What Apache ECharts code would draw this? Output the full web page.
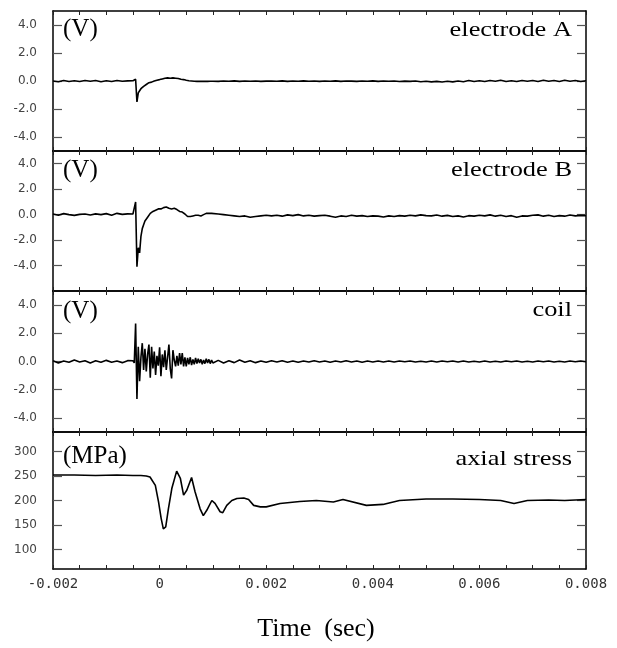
<!DOCTYPE html>
<html><head><meta charset="utf-8">
<script src="https://cdn.jsdelivr.net/npm/echarts@6/dist/echarts.min.js"></script>
<style>html,body{margin:0;padding:0;background:#fff}#c{width:617px;height:648px}</style>
</head><body><div id="c"></div>
<script>
// time grid in milliseconds (axis labels shown in seconds)
var timeMs = [
 -2.0,-1.9,-1.8,-1.7,-1.6,-1.5,-1.4,-1.3,-1.2,-1.1,-1.0,-0.9,-0.8,-0.7,-0.6,
 -0.5,-0.475,-0.45,-0.425,-0.4,-0.375,-0.35,-0.325,-0.3,-0.275,-0.25,-0.225,-0.2,-0.175,-0.15,-0.125,-0.1,-0.075,-0.05,-0.025,
 0,0.025,0.05,0.075,0.1,0.125,0.15,0.175,0.2,0.225,0.25,0.275,0.3,0.325,0.35,0.375,0.4,0.425,0.45,0.475,
 0.5,0.525,0.55,0.575,0.6,0.625,0.65,0.675,0.7,0.725,0.75,0.775,0.8,0.825,0.85,0.875,0.9,0.925,0.95,0.975,
 1.0,
 1.1,1.2,1.3,1.4,1.5,1.6,1.7,1.8,1.9,2.0,
 2.1,2.2,2.3,2.4,2.5,2.6,2.7,2.8,2.9,3.0,
 3.1,3.2,3.3,3.4,3.5,3.6,3.7,3.8,3.9,4.0,
 4.1,4.2,4.3,4.4,4.5,4.6,4.7,4.8,4.9,5.0,
 5.1,5.2,5.3,5.4,5.5,5.6,5.7,5.8,5.9,6.0,
 6.1,6.2,6.3,6.4,6.5,6.6,6.7,6.8,6.9,7.0,
 7.1,7.2,7.3,7.4,7.5,7.6,7.7,7.8,7.9,8.0
];
var electrodeA = [
 0,-0.05,0.03,-0.04,0.02,-0.03,0.04,-0.02,0.03,-0.05,0.02,-0.03,0.04,-0.02,0.01,
 0.02,-0.03,0.12,-1.5,-0.85,-0.7,-0.55,-0.5,-0.38,-0.35,-0.25,-0.22,-0.12,-0.15,-0.08,-0.05,0.0,0.02,0.06,0.04,
 0.1,0.08,0.15,0.12,0.2,0.16,0.22,0.25,0.2,0.28,0.22,0.25,0.2,0.24,0.18,0.2,0.12,0.15,0.1,0.08,
 0.05,0.06,0.02,0.04,0.0,0.02,-0.02,0.0,-0.03,0.0,-0.02,0.01,-0.03,0.0,-0.02,0.0,-0.03,-0.01,-0.02,0.0,
 -0.02,
 -0.03,0.0,-0.02,0.01,-0.03,0.0,-0.02,0.0,-0.03,-0.01,
 0.0,-0.02,0.01,-0.03,0.0,-0.02,0.01,-0.02,0.0,-0.03,
 0.0,-0.02,0.01,-0.03,0.0,-0.01,-0.03,0.0,-0.02,0.01,
 -0.03,0.0,-0.02,0.0,-0.04,-0.01,-0.03,0.0,-0.05,-0.02,
 -0.06,-0.03,-0.07,-0.02,-0.06,0.0,-0.05,0.03,-0.04,0.02,
 -0.03,0.04,-0.02,0.05,-0.03,0.02,-0.04,0.04,-0.02,0.03,
 -0.03,0.05,-0.02,0.04,-0.03,0.05,-0.02,0.03,-0.03,0.02
];
var electrodeB = [
 0.05,-0.05,0.08,0,-0.06,0.02,0.05,-0.03,0.06,0.0,0.08,-0.04,0.1,0.02,0.06,
 0.05,0.02,1.0,-4.1,-2.6,-3.0,-1.7,-1.1,-0.8,-0.5,-0.55,-0.2,-0.05,0.1,0.05,0.25,0.2,0.35,0.3,0.45,
 0.5,0.45,0.6,0.55,0.65,0.6,0.55,0.5,0.6,0.45,0.4,0.5,0.35,0.4,0.3,0.25,0.35,0.2,0.15,0.05,
 -0.05,-0.15,-0.2,-0.15,-0.2,-0.1,-0.15,-0.05,0.0,-0.05,0.0,-0.1,0.05,0.0,0.05,0.1,0.05,0.1,0.05,0.1,
 0.05,
 0.05,0.0,-0.05,-0.1,-0.15,-0.1,-0.2,-0.15,-0.1,-0.05,
 -0.1,-0.05,-0.12,-0.02,-0.08,0.0,-0.1,-0.05,-0.12,-0.08,
 -0.05,-0.12,-0.2,-0.1,-0.15,-0.05,-0.12,-0.08,-0.15,-0.1,
 -0.12,-0.18,-0.1,-0.15,-0.08,-0.12,-0.05,-0.1,-0.02,-0.08,
 -0.1,-0.03,-0.12,-0.06,-0.15,-0.1,-0.18,-0.08,-0.12,-0.05,
 -0.1,-0.02,-0.12,-0.05,-0.15,-0.08,-0.2,-0.1,-0.12,-0.05,
 -0.02,-0.12,-0.05,-0.15,-0.08,-0.12,-0.03,-0.1,-0.06,-0.08
];
var coil = [
 0.06,-0.1,0.03,-0.06,0.1,-0.03,0.06,-0.1,0.05,-0.06,0.08,-0.05,0.03,-0.08,0.06,
 0.05,-0.1,2.7,-2.65,1.05,-1.4,0.3,1.3,-0.6,0.9,-0.7,0.5,1.2,-1.15,1.05,-0.5,0.7,-0.95,0.4,-0.3,
 1.0,-1.05,0.5,-0.4,0.8,-0.6,0.3,1.2,-0.5,-1.2,0.8,0.1,-0.35,0.4,-0.3,0.6,-0.2,0.6,-0.35,0.3,
 -0.35,0.25,-0.2,0.3,-0.25,0.15,-0.2,0.25,-0.15,0.2,-0.1,0.15,-0.2,0.1,-0.15,0.2,-0.1,0.15,-0.15,0.1,
 -0.1,
 0.08,-0.1,0.05,-0.08,0.1,-0.05,0.06,-0.08,0.04,-0.06,
 0.05,-0.04,0.06,-0.05,0.03,-0.06,0.04,-0.03,0.05,-0.04,
 0.03,-0.05,0.04,-0.03,0.05,-0.04,0.03,-0.05,0.03,-0.03,
 0.04,-0.03,0.03,-0.04,0.03,-0.02,0.04,-0.03,0.02,-0.04,
 0.03,-0.03,0.04,-0.02,0.03,-0.04,0.03,-0.03,0.02,-0.03,
 0.03,-0.03,0.02,-0.04,0.03,-0.02,0.03,-0.03,0.02,-0.03,
 0.03,-0.02,0.03,-0.03,0.02,-0.03,0.03,-0.02,0.03,-0.02
];
// axial stress, own time samples (ms) and values (MPa)
var stressTimeMs = [-2.0,-1.6,-1.2,-0.8,-0.5,-0.35,-0.25,-0.18,-0.08,-0.02,0.03,0.07,0.115,0.165,0.23,0.32,0.39,0.45,0.51,0.6,0.665,0.76,0.82,0.885,0.98,1.04,1.135,1.185,1.26,1.355,1.45,1.58,1.67,1.765,1.89,2.0,2.26,2.63,2.94,3.26,3.44,3.88,4.19,4.5,5.0,5.5,6.0,6.4,6.65,6.9,7.3,7.6,8.0];
var stressMPa    = [252,252,251,252,251,251,250,248,231,197,163,142,146,183,225,260,245,211,221,247,218,183,169,180,200,194,177,175,190,200,204,205,202,190,187,187,194,198,200,197,202,190,192,200,203,203,202,200,194,200,201,200,202];

var xTicks = [-2,-1.5,-1,-0.5,0,0.5,1,1.5,2,2.5,3,3.5,4,4.5,5,5.5,6,6.5,7,7.5,8];
var xLabelVals = [-2,0,2,4,6,8];
var xLabelText = ['-0.002','0','0.002','0.004','0.006','0.008'];
var vTicks = [-4,-2,0,2,4];
var vTickText = ['-4.0','-2.0','0.0','2.0','4.0'];
var sTicks = [100,150,200,250,300];
var sTickText = ['100','150','200','250','300'];

var panels = [
 {top:11, height:140, min:-5, max:5, ticks:vTicks, text:vTickText, unit:'(V)', name:'electrode A', t:timeMs, v:electrodeA, uy:29, ny:30},
 {top:151, height:140, min:-6, max:5, ticks:vTicks, text:vTickText, unit:'(V)', name:'electrode B', t:timeMs, v:electrodeB, uy:170, ny:170},
 {top:291, height:141, min:-5, max:5, ticks:vTicks, text:vTickText, unit:'(V)', name:'coil', t:timeMs, v:coil, uy:311, ny:310},
 {top:432, height:137, min:60, max:340, ticks:sTicks, text:sTickText, unit:'(MPa)', name:'axial stress', t:stressTimeMs, v:stressMPa, uy:456, ny:459}
];

var grids=[], xAxes=[], yAxes=[], series=[], graphics=[];
var lineAx = {show:true, onZero:false, lineStyle:{color:'#000', width:1.5}};
panels.forEach(function(p, i){
  grids.push({left:53, right:31, top:p.top, height:p.height, containLabel:false});
  var last = (i === panels.length-1);
  xAxes.push({type:'value', gridIndex:i, position:'bottom', min:-2, max:8,
    axisLine:lineAx, splitLine:{show:false},
    axisTick:{show:true, inside:true, length:4, customValues:xTicks, lineStyle:{color:'#222', width:1}},
    axisLabel:{show:last, customValues:xLabelVals, margin:8, color:'#333', fontSize:14, fontFamily:'DejaVu Sans Mono',
      formatter:function(v){var k=xLabelVals.indexOf(v);return k>=0?xLabelText[k]:'';}}});
  xAxes.push({type:'value', gridIndex:i, position:'top', min:-2, max:8,
    axisLine:lineAx, splitLine:{show:false},
    axisTick:{show:true, inside:true, length:4, customValues:xTicks, lineStyle:{color:'#222', width:1}},
    axisLabel:{show:false}});
  var tk = p.ticks, tx = p.text;
  yAxes.push({type:'value', gridIndex:i, position:'left', min:p.min, max:p.max,
    axisLine:lineAx, splitLine:{show:false},
    axisTick:{show:true, inside:true, length:9, customValues:tk, lineStyle:{color:'#555', width:1.2}},
    axisLabel:{show:true, customValues:tk, margin:16, color:'#444', fontSize:12, fontFamily:'DejaVu Sans',
      formatter:function(v){var k=tk.indexOf(v);return k>=0?tx[k]:'';}}});
  yAxes.push({type:'value', gridIndex:i, position:'right', min:p.min, max:p.max,
    axisLine:lineAx, splitLine:{show:false},
    axisTick:{show:true, inside:true, length:9, customValues:tk, lineStyle:{color:'#555', width:1.2}},
    axisLabel:{show:false}});
  series.push({type:'line', xAxisIndex:2*i, yAxisIndex:2*i, symbol:'none', silent:true,
    data:p.t.map(function(t,k){return [t, p.v[k]];}),
    lineStyle:{color:'#000', width:1.6}});
  graphics.push({type:'text', x:63, y:p.uy, style:{text:p.unit, fill:'#000', font:'25px "Liberation Serif"', textAlign:'left', textVerticalAlign:'middle'}});
  graphics.push({type:'text', x:572, y:p.ny, scaleX:1.2, style:{text:p.name, fill:'#000', font:'22px "Liberation Serif"', textAlign:'right', textVerticalAlign:'middle'}});
});
graphics.push({type:'text', x:316, y:629, style:{text:'Time  (sec)', fill:'#000', font:'26px "Liberation Serif"', textAlign:'center', textVerticalAlign:'middle'}});

var chart = echarts.init(document.getElementById('c'), null, {renderer:'canvas'});
chart.setOption({animation:false, backgroundColor:'#fff', grid:grids, xAxis:xAxes, yAxis:yAxes, series:series, graphic:graphics});
</script></body></html>
